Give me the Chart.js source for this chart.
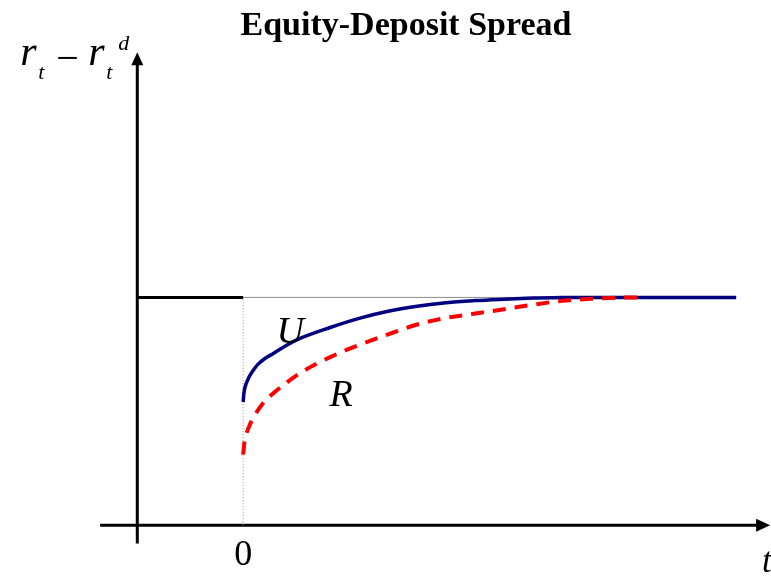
<!DOCTYPE html>
<html>
<head>
<meta charset="utf-8">
<title>Equity-Deposit Spread</title>
<script src="https://cdn.jsdelivr.net/npm/chart.js@4.4.1/dist/chart.umd.min.js"></script>
<style>
  html, body { margin: 0; padding: 0; background: #fff; }
  #wrap { width: 771px; height: 587px; position: relative; }
</style>
</head>
<body>
<div id="wrap"><canvas id="spreadChart"></canvas></div>
<script>
// Periods after the shock (t = 0) and the spread r_t - r_t^d, steady state = 1
const uPeriods = [0, 0.03, 0.08, 0.15, 0.25, 0.38, 0.5, 0.75, 1, 1.5, 2, 3, 4, 5, 6, 7, 8, 9, 10, 11, 17];
const uSpread  = [0.541, 0.584, 0.612, 0.636, 0.661, 0.686, 0.705, 0.732, 0.751, 0.790, 0.822, 0.868, 0.908, 0.939, 0.961, 0.977, 0.986, 0.992, 0.997, 1.0, 1.0];

const rPeriods = [0, 0.05, 0.1, 0.25, 0.35, 0.5, 0.75, 1, 1.5, 2, 3, 4, 5, 6, 7, 8, 9, 10, 11, 12, 13, 13.6];
const rSpread  = [0.31, 0.37, 0.397, 0.447, 0.472, 0.503, 0.546, 0.575, 0.626, 0.671, 0.738, 0.791, 0.838, 0.881, 0.910, 0.929, 0.948, 0.968, 0.985, 0.994, 0.999, 1.0];

const steadyLevel = 1;
const prePeriods = [-3.65, 0];
const steadyPeriods = [0, 17];
const tickLabels = ['0'];

const serif = "'Liberation Serif', 'Times New Roman', serif";
const yAxisAt = -3.65;   // where the vertical axis crosses the t axis

function toPoints(xs, ys) {
    return xs.map((v, i) => ({ x: v, y: ys[i] }));
}

// Hand drawn axes with arrow heads, plus the curve labels
const axesPlugin = {
    id: 'axesArrows',
    beforeDatasetsDraw(chart) {
        const { ctx, scales: { x, y } } = chart;
        const ox = x.getPixelForValue(yAxisAt);
        const oy = y.getPixelForValue(0);
        const top = y.getPixelForValue(2.076);
        const left = x.getPixelForValue(-4.93);
        const right = x.getPixelForValue(18.17);

        ctx.save();
        ctx.strokeStyle = '#000';
        ctx.fillStyle = '#000';
        ctx.lineWidth = 3;

        // vertical axis
        ctx.beginPath();
        ctx.moveTo(ox, y.getPixelForValue(-0.08));
        ctx.lineTo(ox, top + 10);
        ctx.stroke();
        ctx.beginPath();
        ctx.moveTo(ox, top);
        ctx.lineTo(ox - 6, top + 13);
        ctx.lineTo(ox + 6, top + 13);
        ctx.closePath();
        ctx.fill();

        // horizontal axis
        ctx.beginPath();
        ctx.moveTo(left, oy);
        ctx.lineTo(right - 10, oy);
        ctx.stroke();
        ctx.beginPath();
        ctx.moveTo(right, oy);
        ctx.lineTo(right - 14, oy - 6.5);
        ctx.lineTo(right - 14, oy + 6.5);
        ctx.closePath();
        ctx.fill();
        ctx.restore();
    },
    afterDatasetsDraw(chart) {
        const { ctx, scales: { x, y } } = chart;
        const ox = x.getPixelForValue(yAxisAt);
        const oy = y.getPixelForValue(0);

        ctx.save();
        ctx.fillStyle = '#000';
        ctx.textBaseline = 'alphabetic';

        // curve names
        ctx.textAlign = 'center';
        ctx.font = 'italic 38px ' + serif;
        ctx.fillText('U', x.getPixelForValue(1.62), y.getPixelForValue(0.799));
        ctx.fillText('R', x.getPixelForValue(3.38), y.getPixelForValue(0.524));

        // tick at the shock date
        ctx.font = '36px ' + serif;
        ctx.fillText(tickLabels[0], x.getPixelForValue(0), oy + 40);

        // axis names
        ctx.textAlign = 'left';
        ctx.font = 'italic 35px ' + serif;
        ctx.fillText('t', 762, oy + 47);

        const lx = ox - 117;
        const ly = 65;
        ctx.font = 'italic 42px ' + serif;
        ctx.fillText('r', lx, ly);
        ctx.fillText('r', lx + 68, ly);
        ctx.font = '40px ' + serif;
        ctx.fillText('\u2212', lx + 36, ly + 6);
        ctx.font = 'italic 22px ' + serif;
        ctx.fillText('t', lx + 18, ly + 14);
        ctx.fillText('t', lx + 86, ly + 14);
        ctx.fillText('d', lx + 98, ly - 15);
        ctx.restore();
    }
};

const ctx = document.getElementById('spreadChart').getContext('2d');
const spreadChart = new Chart(ctx, {
    type: 'line',
    data: {
        datasets: [
            {
                label: 'R',
                data: toPoints(rPeriods, rSpread),
                borderColor: '#ff0000',
                borderWidth: 4,
                borderDash: [13, 9],
                cubicInterpolationMode: 'monotone',
                pointRadius: 0,
                fill: false,
                order: 0
            },
            {
                label: 'U',
                data: toPoints(uPeriods, uSpread),
                borderColor: '#000080',
                borderWidth: 3.5,
                cubicInterpolationMode: 'monotone',
                pointRadius: 0,
                fill: false,
                order: 1
            },
            {
                label: 'before',
                data: toPoints(prePeriods, prePeriods.map(() => steadyLevel)),
                borderColor: '#000',
                borderWidth: 3,
                pointRadius: 0,
                fill: false,
                order: 2
            },
            {
                label: 'steady',
                data: toPoints(steadyPeriods, steadyPeriods.map(() => steadyLevel)),
                borderColor: '#8c8c8c',
                borderWidth: 1,
                pointRadius: 0,
                fill: false,
                order: 3
            },
            {
                label: 'shock',
                data: [{ x: 0, y: 0 }, { x: 0, y: steadyLevel }],
                borderColor: '#8c8c8c',
                borderWidth: 1,
                borderDash: [1, 2],
                pointRadius: 0,
                fill: false,
                order: 4
            }
        ]
    },
    options: {
        responsive: true,
        maintainAspectRatio: false,
        animation: false,
        layout: { padding: { left: 41, right: 0, top: 0, bottom: 16.2 } },
        scales: {
            x: { type: 'linear', min: -6.97, max: 18.2, display: false },
            y: { type: 'linear', min: -0.2, max: 2.1, display: false }
        },
        plugins: {
            legend: { display: false },
            tooltip: { enabled: false },
            title: {
                display: true,
                text: 'Equity-Deposit Spread',
                color: '#000',
                font: { family: serif, size: 34, weight: 'bold', lineHeight: 1.2 },
                padding: { top: 6, bottom: 0 }
            }
        }
    },
    plugins: [axesPlugin]
});
</script>
</body>
</html>
